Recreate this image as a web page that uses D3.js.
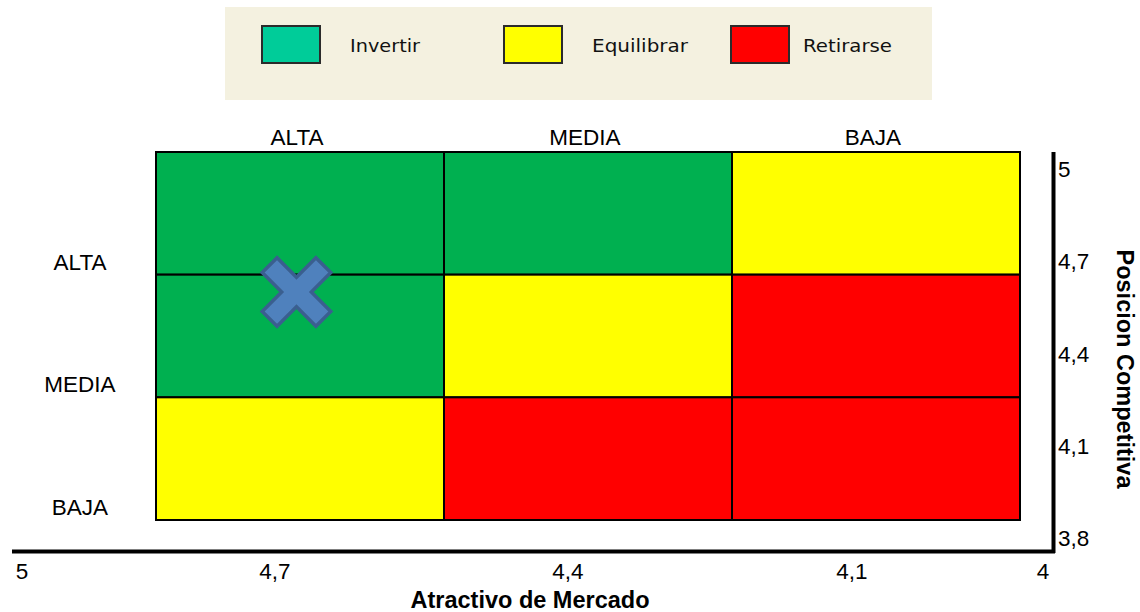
<!DOCTYPE html>
<html>
<head>
<meta charset="utf-8">
<script src="https://cdn.jsdelivr.net/npm/d3@7"></script>
<style>
  html, body { margin: 0; padding: 0; background: #ffffff; }
  svg { display: block; font-family: "Liberation Sans", Arial, sans-serif; }
</style>
</head>
<body>
<svg id="chart" width="1140" height="612"></svg>
<script>
// ---- data ----
const attractLevels = ["ALTA", "MEDIA", "BAJA"];      // columns (Atractivo de Mercado)
const positionLevels = ["ALTA", "MEDIA", "BAJA"];     // rows (Posicion Competitiva)
const strategies = ["Invertir", "Equilibrar", "Retirarse"];
const cellStrategy = [
  ["Invertir", "Invertir", "Equilibrar"],
  ["Invertir", "Equilibrar", "Retirarse"],
  ["Equilibrar", "Retirarse", "Retirarse"]
];
const xTicks = [5, 4.7, 4.4, 4.1, 4];
const yTicks = [5, 4.7, 4.4, 4.1, 3.8];
const point = [{ x: 4.678, y: 4.60 }];

// ---- styles ----
const cellColor = { "Invertir": "#00B050", "Equilibrar": "#FFFF00", "Retirarse": "#FF0000" };
const legendColor = { "Invertir": "#00CC99", "Equilibrar": "#FFFF00", "Retirarse": "#FF0000" };

const svg = d3.select("#chart");

// ---- legend ----
const legend = svg.append("g");
legend.append("rect").attr("x", 225).attr("y", 7).attr("width", 707).attr("height", 93)
  .attr("fill", "#F4F1E0");
const legendX = d3.scaleOrdinal().domain(strategies).range([262, 504, 731]);
const legendTextX = d3.scaleOrdinal().domain(strategies).range([350, 592, 803]);
const legendTextLen = d3.scaleOrdinal().domain(strategies).range([70, 96, 89]);
strategies.forEach(s => {
  legend.append("rect").attr("x", legendX(s)).attr("y", 26).attr("width", 58).attr("height", 37)
    .attr("fill", legendColor[s]).attr("stroke", "#2b2b2b").attr("stroke-width", 2);
  legend.append("text").attr("x", legendTextX(s)).attr("y", 52)
    .attr("font-family", "'DejaVu Sans', sans-serif").attr("font-size", 18)
    .attr("textLength", legendTextLen(s)).attr("lengthAdjust", "spacingAndGlyphs")
    .attr("fill", "#111").text(s);
});

// ---- matrix ----
const col = d3.scaleBand().domain(attractLevels).range([156, 1020]);
const row = d3.scaleBand().domain(positionLevels).range([152, 520]);

const cells = [];
positionLevels.forEach((r, i) => attractLevels.forEach((c, j) => cells.push({ r, c, s: cellStrategy[i][j] })));
svg.append("g").selectAll("rect").data(cells).join("rect")
  .attr("x", d => col(d.c)).attr("y", d => row(d.r))
  .attr("width", col.bandwidth()).attr("height", row.bandwidth())
  .attr("fill", d => cellColor[d.s]).attr("stroke", "#000").attr("stroke-width", 2);

// column labels (top)
svg.append("g").selectAll("text").data(attractLevels).join("text")
  .attr("x", d => col(d) + col.bandwidth() / 2 - 3).attr("y", 145)
  .attr("text-anchor", "middle").attr("font-size", 22.5).attr("fill", "#000").text(d => d);

// row labels (left)
svg.append("g").selectAll("text").data(positionLevels).join("text")
  .attr("x", 80).attr("y", d => row(d) + row.bandwidth() - 5)
  .attr("text-anchor", "middle").attr("font-size", 22.5).attr("fill", "#000").text(d => d);

// ---- scatter axes ----
const x = d3.scaleLinear().domain(xTicks).range([22, 275, 568, 852, 1043]);
const y = d3.scaleLinear().domain([3.8, 5]).range([538, 169]);
const fmt = v => String(v).replace(".", ",");

// axis lines
svg.append("line").attr("x1", 12).attr("x2", 1055).attr("y1", 551.5).attr("y2", 551.5)
  .attr("stroke", "#000").attr("stroke-width", 4);
svg.append("line").attr("x1", 1053.5).attr("x2", 1053.5).attr("y1", 152).attr("y2", 553)
  .attr("stroke", "#000").attr("stroke-width", 4);

svg.append("g").selectAll("text").data(xTicks).join("text")
  .attr("x", d => x(d)).attr("y", 579).attr("text-anchor", "middle")
  .attr("font-size", 22.5).attr("fill", "#000").text(fmt);

svg.append("g").selectAll("text").data(yTicks).join("text")
  .attr("x", 1058).attr("y", d => y(d) + 8)
  .attr("font-size", 22.5).attr("fill", "#000").text(fmt);

svg.append("text").attr("x", 530).attr("y", 608).attr("text-anchor", "middle")
  .attr("font-size", 23.5).attr("font-weight", "bold").attr("fill", "#000").text("Atractivo de Mercado");

svg.append("text").attr("transform", "translate(1117,369) rotate(90)").attr("text-anchor", "middle")
  .attr("font-size", 23.5).attr("font-weight", "bold").attr("fill", "#000").text("Posicion Competitiva");

// ---- marker (X) ----
function xShape(a, b) {
  // cross with half-length a and half-width b, rotated 45deg
  const pts = [[-b, -a], [b, -a], [b, -b], [a, -b], [a, b], [b, b], [b, a], [-b, a], [-b, b], [-a, b], [-a, -b], [-b, -b]];
  return d3.line()(pts) + "Z";
}
svg.append("g").selectAll("path").data(point).join("path")
  .attr("d", xShape(38, 10.5))
  .attr("transform", d => `translate(${x(d.x)},${y(d.y)}) rotate(45)`)
  .attr("fill", "#4F81BD").attr("stroke", "#3A5F8F").attr("stroke-width", 3.5)
  .attr("stroke-linejoin", "miter");
</script>
</body>
</html>
